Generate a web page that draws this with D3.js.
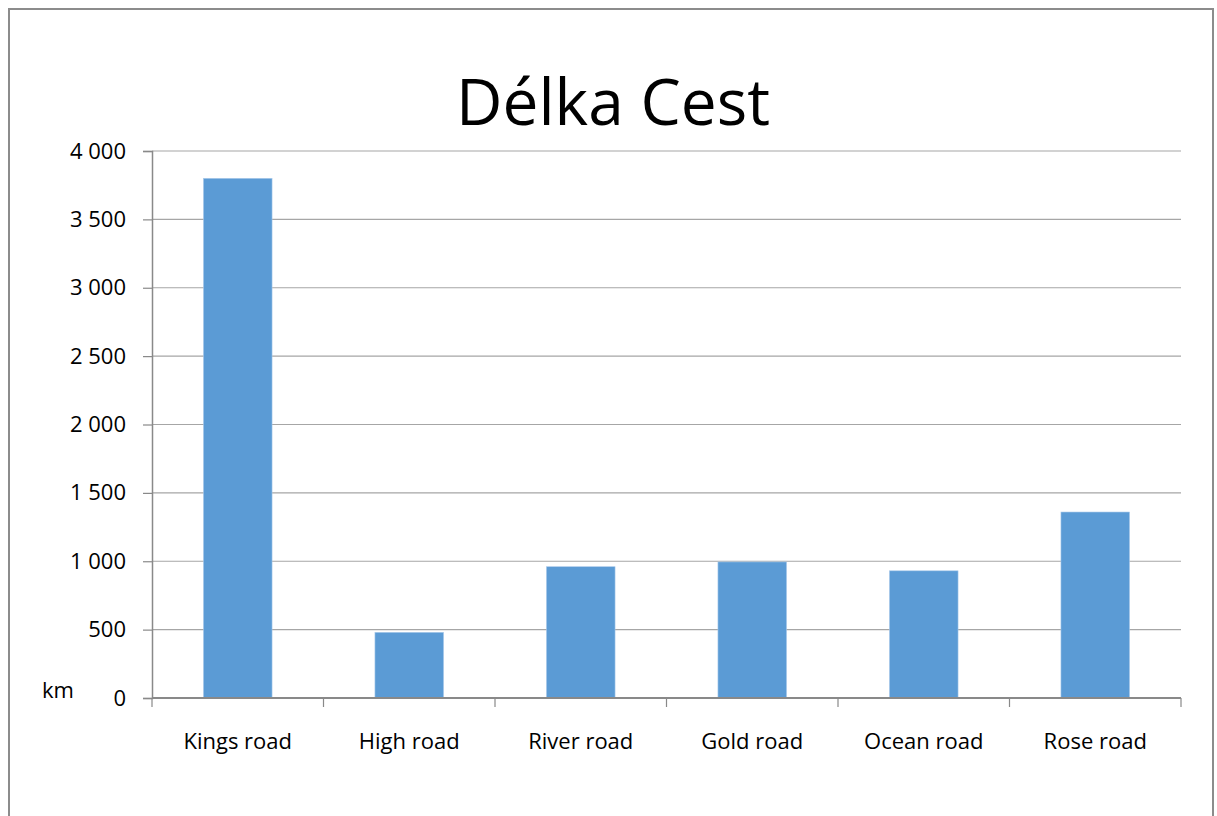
<!DOCTYPE html>
<html>
<head>
<meta charset="utf-8">
<script src="https://cdn.jsdelivr.net/npm/d3@7"></script>
<style>
  body { margin: 0; background: #fff; }
  svg { display: block; font-family: "Open Sans", sans-serif; }
</style>
</head>
<body>
<svg id="chart" width="1217" height="816"></svg>
<script>
// data
const roads = ["Kings road", "High road", "River road", "Gold road", "Ocean road", "Rose road"];
const lengths = [3800, 480, 960, 995, 930, 1360];
const yTicks = [0, 500, 1000, 1500, 2000, 2500, 3000, 3500, 4000];

const svg = d3.select("#chart"),
  margin = { left: 152, right: 1181, top: 151, bottom: 698 };

const cz = d3.formatLocale({ decimal: ",", thousands: "\u00a0", grouping: [3], currency: ["", " Kč"] });
const fmt = cz.format(",d");

// frame round the chart
svg.append("rect")
  .attr("x", 9).attr("y", 9)
  .attr("width", 1204).attr("height", 820)
  .attr("fill", "none")
  .attr("stroke", "#8c8c8c")
  .attr("stroke-width", 2);

const x = d3.scaleBand()
  .domain(roads)
  .range([margin.left, margin.right])
  .paddingInner(0.6)
  .paddingOuter(0.3);

const y = d3.scaleLinear()
  .domain([0, 4000])
  .range([margin.bottom, margin.top]);

// title
svg.append("text")
  .attr("x", 613).attr("y", 125)
  .attr("text-anchor", "middle")
  .attr("font-size", 64)
  .attr("fill", "#000")
  .text("Délka Cest");

// gridlines
svg.append("g")
  .selectAll("line")
  .data(yTicks.filter(d => d > 0))
  .join("line")
  .attr("x1", margin.left).attr("x2", margin.right)
  .attr("y1", d => y(d)).attr("y2", d => y(d))
  .attr("stroke", "#a6a6a6")
  .attr("stroke-width", 1.2);

// bars
svg.append("g")
  .selectAll("rect")
  .data(roads)
  .join("rect")
  .attr("x", d => x(d))
  .attr("width", x.bandwidth())
  .attr("y", (d, i) => y(lengths[i]))
  .attr("height", (d, i) => y(0) - y(lengths[i]))
  .attr("fill", "#5b9bd5")
  .attr("stroke", "#a9c9ea")
  .attr("stroke-width", 0.6);

// y axis
const yAxis = svg.append("g")
  .attr("transform", `translate(${margin.left},0)`)
  .call(d3.axisLeft(y).tickValues(yTicks).tickFormat(fmt).tickSize(9).tickPadding(17));
yAxis.select(".domain").attr("stroke", "#898989").attr("stroke-width", 1.5);
yAxis.selectAll(".tick line").attr("stroke", "#898989").attr("stroke-width", 1.2);
yAxis.selectAll(".tick text")
  .attr("font-size", 22)
  .attr("fill", "#000")
  .attr("font-family", "Open Sans, sans-serif");

// x axis: ticks sit on the category boundaries
const step = x.step();
const bounds = d3.range(roads.length + 1).map(i => margin.left + i * step);
svg.append("line")
  .attr("x1", margin.left).attr("x2", margin.right)
  .attr("y1", y(0)).attr("y2", y(0))
  .attr("stroke", "#898989").attr("stroke-width", 2);
svg.append("g")
  .selectAll("line")
  .data(bounds)
  .join("line")
  .attr("x1", d => d).attr("x2", d => d)
  .attr("y1", y(0)).attr("y2", y(0) + 9)
  .attr("stroke", "#898989")
  .attr("stroke-width", 1.2);

svg.append("g")
  .selectAll("text")
  .data(roads)
  .join("text")
  .attr("x", d => x(d) + x.bandwidth() / 2)
  .attr("y", 749)
  .attr("text-anchor", "middle")
  .attr("font-size", 22)
  .text(d => d);

// unit label
svg.append("text")
  .attr("x", 42).attr("y", 698)
  .attr("font-size", 22)
  .text("km");
</script>
</body>
</html>
